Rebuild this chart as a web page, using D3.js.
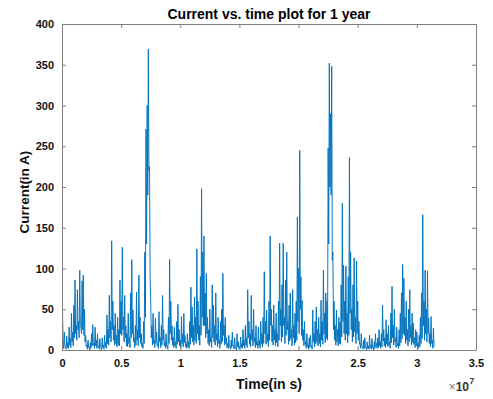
<!DOCTYPE html>
<html>
<head>
<meta charset="utf-8">
<script src="https://cdn.jsdelivr.net/npm/d3@7"></script>
<style>
  html, body { margin: 0; padding: 0; background: #fff; }
  svg { display: block; }
  text { font-family: "Liberation Sans", Arial, sans-serif; }
</style>
</head>
<body>
<svg id="chart" width="493" height="399"></svg>
<script>
// ---- data ----
const titleText = "Current vs. time plot for 1 year";
const xLabelText = "Time(in s)";
const yLabelText = "Current(in A)";
const sampleStep = 1e5;          // seconds between the local-high samples
const xTickValues = [0, 0.5, 1, 1.5, 2, 2.5, 3, 3.5];     // x 1e7 s
const xTickLabels = ["0", "0.5", "1", "1.5", "2", "2.5", "3", "3.5"];
const yTickValues = [0, 50, 100, 150, 200, 250, 300, 350, 400];
const yTickLabels = ["0", "50", "100", "150", "200", "250", "300", "350", "400"];
// local highs, one every sampleStep seconds
const current = [
  113, 6, 22, 4, 17, 9, 28, 14, 45, 22,
  55, 86, 30, 74, 35, 98, 28, 85, 92, 50,
  18, 6, 12, 3, 9, 20, 31, 8, 28, 12,
  20, 5, 14, 2, 15, 6, 18, 9, 43, 25,
  67, 35, 134, 60, 30, 45, 18, 40, 25, 86,
  60, 126, 40, 67, 30, 20, 45, 15, 70, 111,
  49, 15, 30, 71, 25, 92, 40, 20, 8, 35,
  120, 271, 300, 369, 225, 60, 30, 45, 12, 39,
  22, 8, 47, 15, 30, 67, 25, 10, 20, 5,
  40, 111, 60, 30, 15, 28, 10, 35, 56, 25,
  12, 41, 20, 45, 18, 8, 20, 10, 35, 77,
  53, 30, 65, 40, 124, 60, 30, 90, 198, 120,
  140, 70, 94, 40, 25, 50, 15, 80, 55, 30,
  70, 20, 40, 12, 35, 50, 94, 30, 40, 15,
  8, 18, 4, 12, 22, 6, 15, 3, 20, 10,
  5, 16, 8, 25, 12, 30, 15, 74, 35, 20,
  67, 25, 50, 15, 30, 10, 28, 12, 35, 20,
  40, 96, 35, 49, 20, 60, 140, 50, 30, 55,
  25, 45, 20, 60, 131, 50, 80, 131, 40, 86,
  120, 35, 55, 70, 25, 74, 30, 45, 60, 163,
  100, 245, 90, 61, 25, 35, 10, 20, 6, 15,
  18, 5, 49, 20, 35, 53, 25, 40, 20, 61,
  35, 98, 45, 70, 60, 248, 352, 290, 348, 120,
  60, 30, 49, 25, 40, 34, 80, 180, 104, 60,
  103, 45, 90, 236, 120, 50, 80, 113, 40, 109,
  60, 35, 8, 20, 4, 12, 15, 3, 10, 5,
  18, 6, 14, 3, 10, 20, 8, 15, 25, 10,
  20, 55, 25, 15, 37, 20, 30, 10, 45, 78,
  30, 50, 15, 28, 8, 25, 45, 70, 105, 88,
  40, 60, 25, 50, 74, 30, 45, 33, 15, 25,
  22, 8, 18, 40, 70, 166, 60, 98, 50, 97,
  39, 20, 41, 12, 27, 4
];
// local lows, half a step after each high
const currentLow = [
  40, 2, 5, 1, 3, 2, 6, 3, 10, 5,
  15, 20, 12, 25, 15, 30, 20, 25, 18, 10,
  4, 1, 3, 0, 2, 5, 6, 2, 5, 2,
  4, 1, 3, 0, 3, 1, 4, 2, 8, 6,
  15, 10, 25, 12, 6, 8, 4, 6, 5, 20,
  18, 25, 10, 15, 5, 4, 8, 3, 15, 20,
  10, 3, 6, 12, 5, 15, 8, 4, 2, 8,
  40, 130, 190, 220, 90, 15, 6, 8, 3, 8,
  5, 2, 10, 3, 6, 12, 5, 2, 4, 1,
  8, 20, 12, 6, 3, 5, 2, 7, 10, 5,
  3, 8, 4, 9, 4, 2, 4, 2, 7, 15,
  10, 6, 12, 8, 20, 12, 6, 18, 40, 30,
  30, 15, 20, 8, 5, 10, 3, 15, 10, 6,
  12, 4, 8, 2, 7, 10, 18, 6, 8, 3,
  2, 4, 1, 3, 5, 1, 3, 0, 4, 2,
  1, 3, 2, 5, 2, 6, 3, 15, 7, 4,
  12, 5, 10, 3, 6, 2, 5, 2, 7, 4,
  8, 20, 7, 10, 4, 12, 30, 10, 6, 12,
  5, 9, 4, 12, 30, 10, 16, 30, 8, 18,
  25, 7, 11, 14, 5, 15, 6, 9, 12, 35,
  20, 50, 18, 12, 5, 7, 2, 4, 1, 3,
  4, 1, 10, 4, 7, 10, 5, 8, 4, 12,
  7, 20, 9, 14, 12, 130, 200, 190, 110, 25,
  12, 6, 10, 5, 8, 7, 16, 35, 20, 12,
  20, 9, 18, 45, 25, 10, 16, 22, 8, 20,
  12, 7, 2, 4, 1, 2, 3, 0, 2, 1,
  3, 1, 3, 0, 2, 4, 2, 3, 5, 2,
  4, 11, 5, 3, 7, 4, 6, 2, 9, 15,
  6, 10, 3, 5, 2, 5, 9, 14, 20, 18,
  8, 12, 5, 10, 15, 6, 9, 7, 3, 5,
  4, 2, 4, 8, 14, 30, 12, 20, 10, 20,
  8, 4, 8, 2, 5
];

// ---- layout ----
const svg = d3.select("#chart");
const mLeft = 62, mRight = 476, mTop = 24, mBottom = 350;
const axisGrey = "#7f7f7f";
const lineColor = "#0072BD";

const x = d3.scaleLinear().domain([0, 3.5e7]).range([mLeft, mRight]);
const y = d3.scaleLinear().domain([0, 400]).range([mBottom, mTop]);

const points = [];
current.forEach((v, i) => {
  points.push({ t: i * sampleStep, v });
  if (i < currentLow.length) points.push({ t: (i + 0.5) * sampleStep, v: currentLow[i] });
});

svg.append("defs").append("clipPath").attr("id", "clip")
  .append("rect").attr("x", mLeft).attr("y", mTop)
  .attr("width", mRight - mLeft).attr("height", mBottom - mTop);

// data line
svg.append("path")
  .datum(points)
  .attr("clip-path", "url(#clip)")
  .attr("fill", "none")
  .attr("stroke", lineColor)
  .attr("stroke-width", 0.95)
  .attr("stroke-linejoin", "miter")
  .attr("d", d3.line().x(d => x(d.t)).y(d => y(d.v)));

// axes
const xTicksSec = xTickValues.map(v => v * 1e7);
const fmtX = d => xTickLabels[xTicksSec.indexOf(d)];
const fmtY = d => yTickLabels[yTickValues.indexOf(d)];

function styleAxis(g) {
  g.selectAll(".domain").attr("stroke", axisGrey).attr("stroke-width", 1);
  g.selectAll(".tick line").attr("stroke", axisGrey).attr("stroke-width", 1);
  g.selectAll(".tick text")
    .attr("fill", "#111")
    .style("font-size", "11px")
    .style("font-weight", "bold")
    .style("font-family", "'Liberation Sans', Arial, sans-serif");
}

const gxB = svg.append("g").attr("transform", `translate(0,${mBottom})`)
  .call(d3.axisBottom(x).tickValues(xTicksSec).tickFormat(fmtX).tickSizeInner(-4).tickSizeOuter(0).tickPadding(9));
styleAxis(gxB);
const gxT = svg.append("g").attr("transform", `translate(0,${mTop})`)
  .call(d3.axisTop(x).tickValues(xTicksSec).tickFormat("").tickSizeInner(-4).tickSizeOuter(0));
styleAxis(gxT);
const gyL = svg.append("g").attr("transform", `translate(${mLeft},0)`)
  .call(d3.axisLeft(y).tickValues(yTickValues).tickFormat(fmtY).tickSizeInner(-4).tickSizeOuter(0).tickPadding(8));
styleAxis(gyL);
const gyR = svg.append("g").attr("transform", `translate(${mRight},0)`)
  .call(d3.axisRight(y).tickValues(yTickValues).tickFormat("").tickSizeInner(-4).tickSizeOuter(0));
styleAxis(gyR);

// title & labels
svg.append("text")
  .attr("x", (mLeft + mRight) / 2).attr("y", 18.5)
  .attr("text-anchor", "middle")
  .style("font-size", "14px").style("font-weight", "bold").attr("fill", "#000")
  .text(titleText);

svg.append("text")
  .attr("x", (mLeft + mRight) / 2).attr("y", 388.5)
  .attr("text-anchor", "middle")
  .style("font-size", "14px").style("font-weight", "bold").attr("fill", "#111")
  .text(xLabelText);

svg.append("text")
  .attr("transform", "translate(29,192) rotate(-90)")
  .attr("text-anchor", "middle")
  .style("font-size", "13.5px").style("font-weight", "bold").attr("fill", "#111")
  .text(yLabelText);

// exponent label
const expo = svg.append("text")
  .attr("x", 469).attr("y", 391)
  .attr("text-anchor", "end")
  .style("font-size", "12px").attr("fill", "#333");
expo.append("tspan").attr("fill", "#777").text("\u00d7");
expo.append("tspan").style("font-weight", "bold").text("10");
svg.append("text")
  .attr("x", 469.5).attr("y", 384)
  .style("font-size", "8.5px").style("font-weight", "bold").attr("fill", "#333")
  .text("7");
</script>
</body>
</html>
